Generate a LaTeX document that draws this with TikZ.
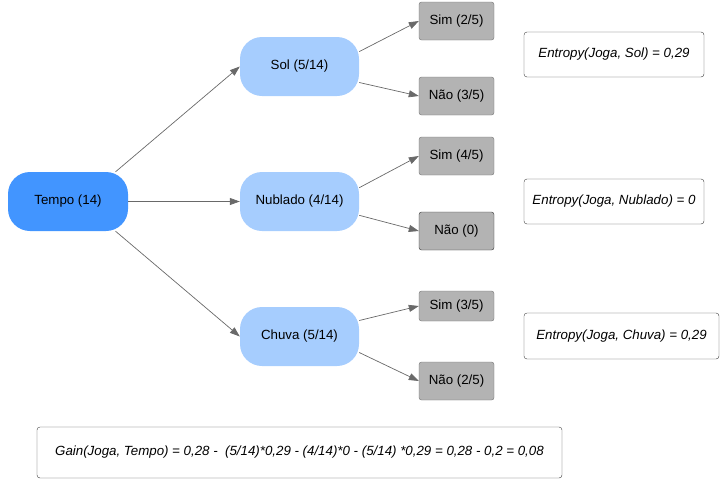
\documentclass[tikz,border=0pt]{standalone}
\usepackage{fontspec}
\setmainfont{Liberation Sans}
\usepackage{tikz}
\usetikzlibrary{arrows.meta,shapes}
\usepackage{xcolor}
\definecolor{tpblue}{RGB}{66,149,255}
\definecolor{tplightblue}{RGB}{166,205,254}
\definecolor{tpgray}{RGB}{179,179,179}
\definecolor{tpborder}{RGB}{115,115,115}
\definecolor{tpline}{RGB}{105,105,105}
\tikzstyle{root} = [rectangle, rounded corners=22pt, fill=tpblue, minimum width=120pt, minimum height=59pt, inner sep=0pt]
\tikzstyle{branch} = [rectangle, rounded corners=22pt, fill=tplightblue, minimum width=119pt, minimum height=59pt, inner sep=0pt]
\tikzstyle{leaf} = [rectangle, rounded corners=2.5pt, draw=tpborder, fill=tpgray, minimum width=75pt, minimum height=38pt, inner sep=0pt]
\tikzstyle{formula} = [rectangle, rounded corners=3pt, draw=black!75, fill=white, minimum height=45pt, inner sep=0pt, font=\fontsize{13.3}{16}\selectfont\itshape]
\tikzstyle{arrow} = [line width=0.7pt, color=tpline, -{Triangle[length=10pt,width=7pt]}]

\begin{document}
\begin{tikzpicture}[x=1pt, y=-1pt, font=\fontsize{13.3}{16}\selectfont]
\useasboundingbox (0,0) rectangle (727,485);
% Tree of Tempo
\node[root] (tempo) at (68,201.5) {Tempo (14)};
\node[branch] (sol) at (299.5,66.5) {Sol (5/14)};
\node[branch] (nublado) at (299.5,201.5) {Nublado (4/14)};
\node[branch] (chuva) at (299.5,336.5) {Chuva (5/14)};
\node[leaf] (simsol) at (456.5,21) {Sim (2/5)};
\node[leaf] (naosol) at (456.5,96) {Não (3/5)};
\node[leaf] (simnublado) at (456.5,156) {Sim (4/5)};
\node[leaf, draw=black!80] (naonublado) at (456.5,231) {Não (0)};
\node[leaf, minimum height=30pt] (simchuva) at (456.5,306) {Sim (3/5)};
\node[leaf] (naochuva) at (456.5,381) {Não (2/5)};
\draw[arrow] (tempo.32) -- (sol.west);
\draw[arrow] (tempo.east) -- (nublado.west);
\draw[arrow] (tempo.-32) -- (chuva.west);
\draw[arrow] (sol.14) -- (simsol.west);
\draw[arrow] (sol.-15) -- (naosol.west);
\draw[arrow] (nublado.13) -- (simnublado.west);
\draw[arrow] (nublado.-13) -- (naonublado.west);
\draw[arrow] (chuva.15) -- (simchuva.west);
\draw[arrow] (chuva.-15) -- (naochuva.west);
% Entropy and gain
\node[formula, minimum width=180pt] (entsol) at (614,54.5) {Entropy(Joga, Sol) = 0,29};
\node[formula, minimum width=180pt] (entnublado) at (614,201.5) {Entropy(Joga, Nublado) = 0};
\node[formula, minimum width=195pt, minimum height=46pt] (entchuva) at (621.5,336) {Entropy(Joga, Chuva) = 0,29};
\node[formula, minimum width=525pt, minimum height=51pt] (gain) at (299.5,452.5) {Gain(Joga, Tempo) = 0,28 - \ (5/14)*0,29 - (4/14)*0 - (5/14) *0,29 = 0,28 - 0,2 = 0,08};
\end{tikzpicture}
\end{document}
